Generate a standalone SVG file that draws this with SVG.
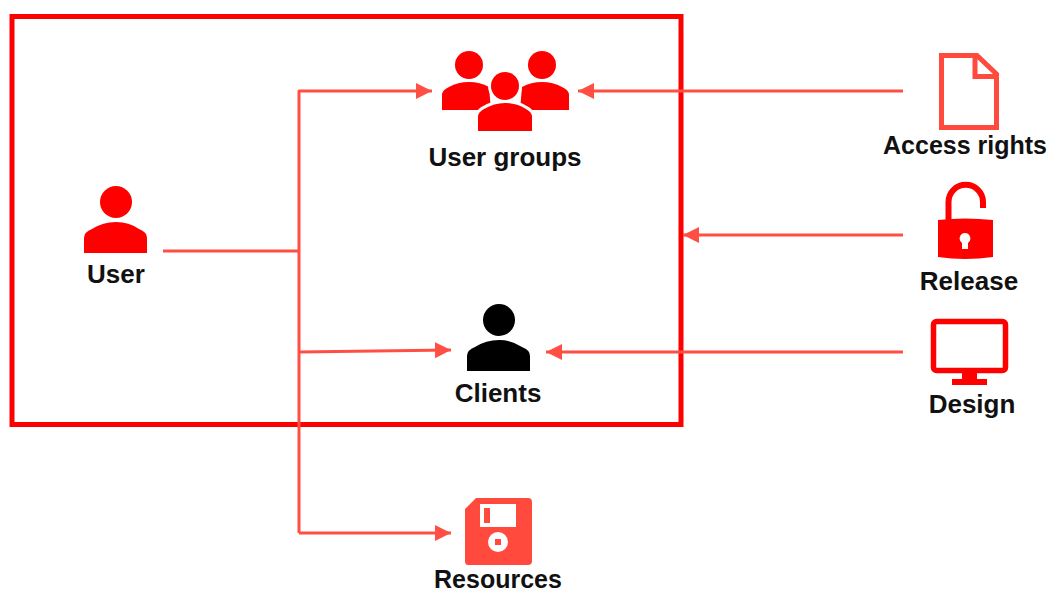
<svg xmlns="http://www.w3.org/2000/svg" xmlns:xlink="http://www.w3.org/1999/xlink" width="1051" height="592" viewBox="0 0 1051 592">
<style>
.lbl{font-family:"Liberation Sans",Arial,sans-serif;font-weight:700;font-size:26px;fill:#111;text-anchor:middle}
.lbl.s{font-size:25px}
.c{fill:none;stroke:#ff4f45;stroke-width:3;stroke-linejoin:round}
.red{fill:#ff0000}
.black{fill:#000}
.orange{fill:#ff4a3d}
</style>
<defs>
<marker id="arrow" markerUnits="userSpaceOnUse" markerWidth="18" markerHeight="18" refX="16" refY="9" orient="auto">
<path d="M0 1L16 9L0 17Z" fill="#ff4f45"/>
</marker>
<g id="person">
<circle cx="32" cy="16" r="16"/>
<path d="M0 67V52Q0 46 8 43Q19 36 32 36Q45 36 55 43Q63 46 63 52V67Z"/>
</g>
</defs>
<rect width="1051" height="592" fill="#fff"/>
<g id="scope-frame"><rect x="12" y="16.500" width="669" height="408" fill="none" stroke="#ff0000" stroke-width="5"/></g>
<g id="connectors">
<path class="c" d="M163 251H299"/>
<path class="c" d="M299 533V91H432" marker-end="url(#arrow)"/>
<path class="c" d="M299 352L451 350" marker-end="url(#arrow)"/>
<path class="c" d="M299 533H451" marker-end="url(#arrow)"/>
<path class="c" d="M903 91H578" marker-end="url(#arrow)"/>
<path class="c" d="M903 235L683 235" marker-end="url(#arrow)"/>
<path class="c" d="M903 352H546" marker-end="url(#arrow)"/>
</g>
<g id="user">
<use xlink:href="#person" href="#person" x="84" y="186" class="red"/>
<text class="lbl" x="116" y="283">User</text>
</g>
<g id="user-groups">
<g class="red">
<circle cx="469" cy="65" r="14"/><circle cx="542" cy="65" r="14"/>
<path d="M442 110V95Q442 90 449 87Q458 82 469 82Q480 82 489 87L491 110Z"/>
<path d="M569 110V95Q569 90 562 87Q553 82 542 82Q531 82 522 87L520 110Z"/>
<path d="M478 131V117Q478 112 484 109Q494 103 505 103Q516 103 526 109Q532 112 532 117V131Z" fill="#fff" stroke="#fff" stroke-width="6"/>
<circle cx="505" cy="86" r="17" fill="#fff"/>
<circle cx="505" cy="86" r="14"/>
<path d="M478 131V117Q478 112 484 109Q494 103 505 103Q516 103 526 109Q532 112 532 117V131Z"/>
</g>
<text class="lbl" x="505" y="166">User groups</text>
</g>
<g id="clients">
<use xlink:href="#person" href="#person" x="467" y="304" class="black"/>
<text class="lbl" x="498" y="402">Clients</text>
</g>
<g id="resources">
<path class="orange" fill-rule="evenodd" d="M476 498H528Q532 498 532 502V561Q532 565 528 565H468Q465 565 465 561V509ZM480 504V527H516V504ZM484 508H490V523H484ZM498 532A10 10 0 1 0 498 552A10 10 0 1 0 498 532ZM495 539H501V545H495Z"/>
<text class="lbl s" x="498" y="588">Resources</text>
</g>
<g id="access-rights">
<path d="M941.500 55.500H977L996.500 74V127.500H941.500ZM975 56V76.500H996" fill="none" stroke="#ff4a3d" stroke-width="5"/>
<text class="lbl s" x="965" y="154">Access rights</text>
</g>
<g id="release">
<path d="M948.500 222V202A17.200 17.200 0 0 1 983 202V208" fill="none" stroke="#ff0000" stroke-width="6"/>
<path class="red" fill-rule="evenodd" d="M938 220Q965 217 993 220V257Q965 261 938 257ZM965 233A5.500 5.500 0 0 0 962 243V249H968V243A5.500 5.500 0 0 0 965 233Z"/>
<text class="lbl" x="969" y="290">Release</text>
</g>
<g id="design">
<rect x="933.500" y="321.500" width="72" height="49" rx="3" fill="none" stroke="#ff0000" stroke-width="5.500"/>
<path class="red" d="M962 373H977V379H987V385H952V379H962Z"/>
<text class="lbl" x="972" y="413">Design</text>
</g>
</svg>
